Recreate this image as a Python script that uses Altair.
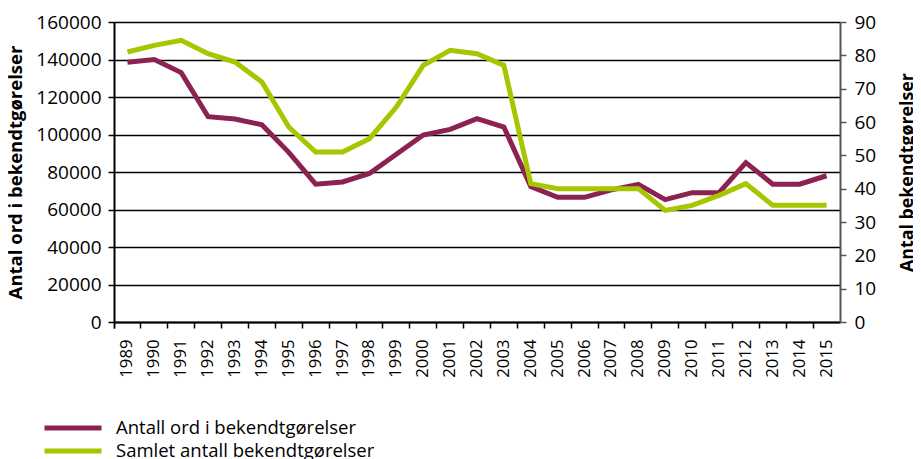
import altair as alt
import pandas as pd

years = [str(y) for y in range(1989, 2016)]
words = [138500, 140000, 133000, 109500, 108300, 105200, 90500, 73500, 74700,
         79200, 89500, 99700, 102700, 108500, 104000, 72200, 66500, 66500,
         70500, 73400, 65300, 69000, 69000, 85000, 73500, 73500, 78000]
counts = [81, 83, 84.5, 80.5, 78, 72, 58.5, 51, 51, 55, 64.5, 77, 81.5, 80.5,
          77, 41.5, 40, 40, 40, 40, 33.5, 35, 38, 41.5, 35, 35, 35]
series_names = ["Antall ord i bekendtgørelser", "Samlet antall bekendtgørelser"]
series_colors = ["#8C2252", "#A5C600"]
left_title = "Antal ord i bekendtgørelser"
right_title = "Antal bekendtgørelser"

FONT = "Open Sans"

df_words = pd.DataFrame({"year": years, "value": words, "series": series_names[0]})
df_counts = pd.DataFrame({"year": years, "value": counts, "series": series_names[1]})

x_enc = alt.X(
    "year:O",
    sort=years,
    bandPosition=0.5,
    scale=alt.Scale(type="band", paddingInner=0, paddingOuter=0),
    axis=alt.Axis(
        title=None, labelAngle=270, bandPosition=0, tickExtra=True,
        tickSize=6, tickColor="black", tickWidth=1.5,
        domainColor="black", domainWidth=2,
        labelFont=FONT, labelFontSize=16.7, labelColor="black",
        labelPadding=11, grid=False,
    ),
)


def legend_at(y):
    return alt.Legend(
        orient="none", legendX=-72, legendY=y, title=None,
        symbolType="stroke", symbolSize=3249, symbolStrokeWidth=5,
        labelFont=FONT, labelFontSize=18.5, labelColor="black", labelLimit=500,
        labelOffset=12, padding=0,
    )


words_line = alt.Chart(df_words).mark_line(strokeWidth=5).encode(
    x=x_enc,
    y=alt.Y(
        "value:Q",
        scale=alt.Scale(domain=[0, 160000], nice=False),
        axis=alt.Axis(
            orient="left", title=left_title, values=list(range(0, 160001, 20000)),
            format="d", grid=True, gridColor="black", gridWidth=1.6,
            domainColor="black", domainWidth=2, tickColor="black", tickWidth=1.5,
            tickSize=6, labelFont=FONT, labelFontSize=19, labelColor="black",
            labelPadding=7, titleFont=FONT, titleFontSize=18.5, titleFontWeight="bold",
            titleColor="black", titlePadding=10,
        ),
    ),
    color=alt.Color(
        "series:N",
        scale=alt.Scale(domain=[series_names[0]], range=[series_colors[0]]),
        legend=legend_at(375),
    ),
)

counts_line = alt.Chart(df_counts).mark_line(strokeWidth=5).encode(
    x=x_enc,
    y=alt.Y(
        "value:Q",
        scale=alt.Scale(domain=[0, 90], nice=False),
        axis=alt.Axis(
            orient="right", title=right_title, values=list(range(0, 91, 10)),
            format="d", grid=False,
            domainColor="#555555", domainWidth=2, tickColor="#555555", tickWidth=1.5,
            tickSize=6, labelFont=FONT, labelFontSize=19, labelColor="black",
            labelPadding=8, titleFont=FONT, titleFontSize=17.8, titleFontWeight="bold",
            titleColor="black", titleAngle=270, titlePadding=41,
        ),
    ),
    stroke=alt.Stroke(
        "series:N",
        scale=alt.Scale(domain=[series_names[1]], range=[series_colors[1]]),
        legend=legend_at(398),
    ),
)

chart = (
    alt.layer(words_line, counts_line)
    .resolve_scale(y="independent")
    .properties(
        width=726, height=300,
        autosize=alt.AutoSizeParams(type="none"),
        padding={"left": 106, "top": 14, "right": 73, "bottom": 137},
        background="white",
    )
    .configure_view(stroke=None)
)

chart.save("out.html", embed_options={"renderer": "svg", "actions": False})
